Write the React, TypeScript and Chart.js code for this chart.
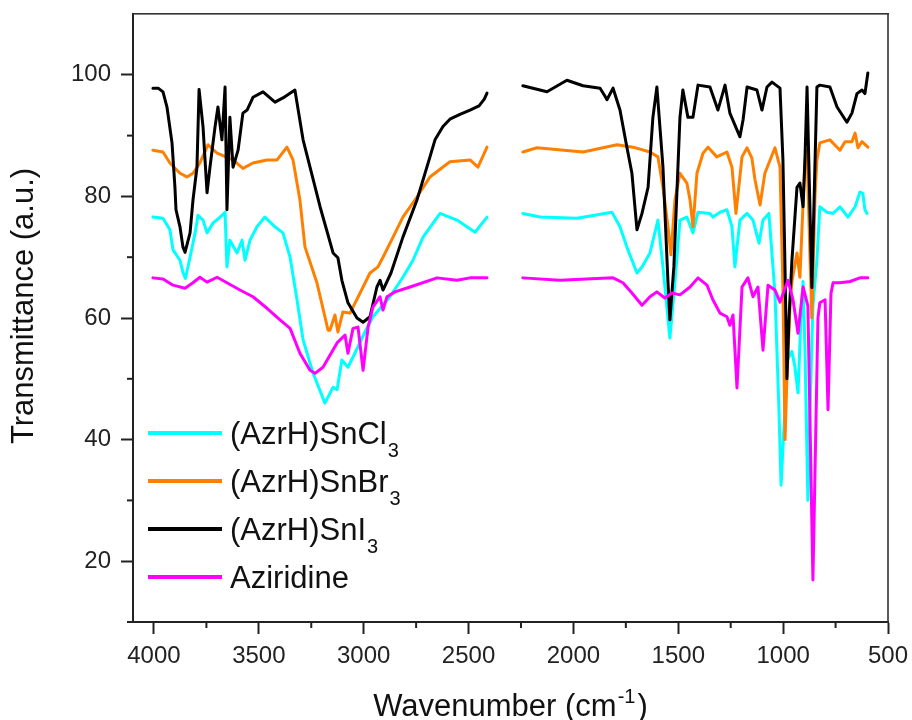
import React, { useEffect, useRef } from 'react';
import { Chart, registerables } from 'chart.js';
Chart.register(...registerables);

const FONT = '"Liberation Sans", Arial, sans-serif';

// Wavenumbers (cm-1) and transmittance (a.u.); null = axis break
const WN_CL = [4005,3957,3924,3909,3876,3862,3850,3828,3804,3790,3766,3747,3719,3685,3661,3652,3638,3604,3580,3566,3542,3509,3471,3423,3385,3351,3318,3289,3242,3185,3146,3127,3104,3075,3042,2994,2956,2875,2813,2765,2717,2636,2555,2469,2412,
  2330,
  2241,2159,1983,1816,1778,1740,1697,1673,1635,1597,1573,1540,1516,1492,1459,1430,1406,1349,1335,1301,1268,1244,1230,1206,1172,1144,1115,1096,1068,1039,1020,1010,996,982,958,944,929,915,905,896,882,872,858,839,825,791,762,729,691,657,634,620,610,600];
const T_CL = [76.6,76.4,74.5,71.2,69.5,67.5,66.5,70,74,76.9,76.1,74,75.6,76.6,77.4,68.4,72.8,70.7,72.8,69.5,72.8,75,76.6,75,74,70,63,56.4,51,46,48.6,48.2,53.1,51.9,54.2,57.7,60.2,63.5,66.7,69.5,73.3,77.2,76.1,74.1,76.6,
  null,
  77.2,76.6,76.4,77.4,75,71.2,67.4,68.4,70.7,76.1,68.4,56.7,65.8,76.1,76.6,74,77.4,77.2,76.6,77.4,77.8,75,68.4,76.1,77.2,76.1,72.3,76.1,77.2,64.1,45,32.5,42,53,54.5,52,47.7,60,66,55,30,45,62,69.5,78.3,77.4,77.2,78.3,76.6,78.3,80.7,80.5,77.8,77.2];

const WN_BR = [4005,3957,3924,3876,3843,3814,3781,3742,3699,3623,3576,3528,3461,3413,3366,3337,3304,3280,3223,3170,3161,3137,3123,3099,3065,3003,2970,2932,2908,2860,2813,2746,2684,2589,2493,2455,2412,
  2330,
  2241,2174,1954,1792,1716,1635,1597,1573,1549,1535,1516,1492,1459,1444,1430,1411,1382,1358,1316,1268,1244,1225,1196,1172,1149,1134,1110,1087,1039,1015,1001,991,982,967,958,934,920,896,886,872,863,848,839,825,777,729,705,672,657,643,624,596];
const T_BR = [87.6,87.3,85.5,83.8,83.2,83.8,85.5,88.5,87.1,86,84.6,85.5,86,86,88.1,86,79.4,71.7,65.8,58,58,60.5,57.7,61,60.8,65.1,67.4,68.4,70,73.3,76.6,79.9,83.2,85.7,86,84.8,88.1,
  null,
  87.3,88,87.3,88.5,88.1,87.3,86.5,81.5,75,70.4,79.4,83.8,82.2,79.4,75,83.8,87.1,88.1,86.5,87.3,84.8,77.2,86.5,88,86.3,82.7,78.6,83.8,88,84.8,65,40,50,62,66,70.7,66.7,86,87.6,70,60,80,86,88.8,89.3,87.6,89,89,90.4,88,89,88.1];

const WN_I = [4005,3980,3957,3938,3914,3900,3895,3876,3862,3852,3843,3828,3814,3795,3785,3766,3747,3733,3709,3695,3676,3661,3652,3638,3623,3599,3576,3556,3528,3480,3423,3385,3328,3289,3208,3146,3123,3104,3075,3032,3003,2970,2937,2922,2908,2870,2813,2746,2684,2660,2622,2589,2541,2493,2450,2425,2412,
  2330,
  2241,2126,2031,1954,1873,1850,1840,1811,1778,1745,1721,1697,1673,1644,1621,1602,1573,1549,1540,1521,1492,1478,1454,1430,1406,1349,1311,1277,1254,1206,1191,1172,1125,1101,1077,1053,1015,1001,991,982,972,958,934,920,905,896,886,875,863,852,839,825,777,743,696,672,648,624,610,596];
const T_I = [97.8,97.8,97.2,94.7,88.8,81.5,77.8,75,71.7,70.8,72,74,79.4,84.8,97.6,91.4,80.6,84.8,91.4,94.7,89.3,98,77.8,93,84.8,87.6,93.7,94.2,96.3,97.2,95.5,96.2,97.5,89.3,78.3,70.7,69.9,66.2,62.5,60,59.3,60.2,65.1,66.2,64.6,67.4,73.3,79.4,86.5,89.3,91.5,92.7,93.5,94.2,94.9,96,97,
  null,
  98.2,97.2,99.1,98.2,97.8,96.5,95.9,97.8,94.2,88.1,83.8,74.5,77.2,81.5,93,98,84.8,65.8,59.7,68.4,93,97.5,93,93,98.3,98,94.2,98.3,93.7,89.8,92.6,98,97.5,94.2,98,98.8,97.8,86,68,50,60,69.5,81.5,82.2,78.3,86,98,82,65,80,98,98.3,98,94.7,92.2,93.7,96.9,97.5,96.9,100.3];

const WN_AZ = [4005,3957,3909,3852,3814,3781,3747,3699,3652,3590,3528,3461,3399,3351,3304,3256,3232,3194,3127,3089,3075,3051,3027,3003,2979,2956,2922,2908,2889,2851,2779,2650,2555,2493,2412,
  2330,
  2241,2064,1811,1764,1721,1673,1635,1602,1564,1530,1492,1444,1406,1363,1335,1301,1268,1254,1239,1220,1196,1168,1144,1120,1096,1072,1039,1015,977,953,929,905,882,858,834,825,800,786,772,762,729,681,634,596];
const T_AZ = [66.6,66.4,65.4,64.9,65.8,66.7,65.9,66.7,65.8,64.6,63.5,61.6,59.7,58.3,54.2,51.4,50.9,51.9,55.9,57.2,54.2,58.3,58.5,51.4,58.5,61.8,63.5,61.3,63.5,64.3,65.1,66.6,66.2,66.6,66.6,
  null,
  66.6,66.2,66.6,65.8,64.1,62.1,63.5,64.3,63.3,64.1,63.8,65.1,66.6,65.4,63,60.8,60.2,58.8,60.5,48.5,65.1,66.6,63.5,65.1,54.7,65.4,64.6,62.6,66.2,63,57.5,65.1,62,16.9,60,62.5,63,44.9,64,65.8,65.8,66,66.6,66.6];

const X_MAJOR = [4000, 3500, 3000, 2500, 2000, 1500, 1000, 500];
const X_MINOR = [3750, 3250, 2750, 2250, 1750, 1250, 750];
const Y_MAJOR = [20, 40, 60, 80, 100];
const Y_MINOR = [10, 30, 50, 70, 90];

const SERIES = [
  { label: '(AzrH)SnCl', sub: '3', color: '#00FFFF', wn: WN_CL, t: T_CL },
  { label: '(AzrH)SnBr', sub: '3', color: '#FF8000', wn: WN_BR, t: T_BR },
  { label: '(AzrH)SnI', sub: '3', color: '#000000', wn: WN_I, t: T_I },
  { label: 'Aziridine', sub: '', color: '#FF00FF', wn: WN_AZ, t: T_AZ },
];

const decor = {
  id: 'decor',
  afterDraw(chart: any) {
    const ctx = chart.ctx;
    const xs = chart.scales.x;
    const ys = chart.scales.y;
    const L = xs.left;
    const R = xs.right;
    const T = ys.top;
    const B = ys.bottom;
    ctx.save();
    ctx.setLineDash([]);
    // top and right frame
    ctx.fillStyle = '#333';
    ctx.fillRect(L, T - 1, R - L + 1, 1.6);
    ctx.fillRect(R - 0.8, T - 1, 1.6, B - T + 1);
    // minor ticks
    ctx.fillStyle = '#222';
    X_MINOR.forEach((v) => {
      const x = xs.getPixelForValue(v);
      ctx.fillRect(x - 1, B, 2, 6);
    });
    Y_MINOR.forEach((v) => {
      const y = ys.getPixelForValue(v);
      ctx.fillRect(L - 6, y - 1, 6, 2);
    });

    // legend
    const lx0 = L + 15;
    const lx1 = L + 89;
    const tx = L + 97;
    SERIES.forEach((s, i) => {
      const ry = 433 + i * 48;
      ctx.fillStyle = s.color;
      ctx.fillRect(lx0, ry - 2, lx1 - lx0, 4);
      ctx.fillStyle = '#111';
      ctx.textAlign = 'left';
      ctx.textBaseline = 'alphabetic';
      ctx.font = `31px ${FONT}`;
      ctx.fillText(s.label, tx, ry + 11);
      const w = ctx.measureText(s.label).width;
      if (s.sub) {
        ctx.font = `20px ${FONT}`;
        ctx.fillText(s.sub, tx + w + 1, ry + 24);
      }
    });

    // y title
    ctx.fillStyle = '#111';
    ctx.save();
    ctx.translate(33, 306);
    ctx.rotate(-Math.PI / 2);
    ctx.font = `31px ${FONT}`;
    ctx.textAlign = 'center';
    ctx.textBaseline = 'alphabetic';
    ctx.fillText('Transmittance (a.u.)', 0, 0);
    ctx.restore();

    // x title with superscript
    const main = 'Wavenumber (cm';
    const sup = '-1';
    const close = ')';
    ctx.textAlign = 'left';
    ctx.textBaseline = 'alphabetic';
    ctx.font = `31px ${FONT}`;
    const w1 = ctx.measureText(main).width;
    const w3 = ctx.measureText(close).width;
    ctx.font = `20px ${FONT}`;
    const w2 = ctx.measureText(sup).width;
    const total = w1 + w2 + w3 + 3;
    const cx = (L + R) / 2;
    let x = cx - total / 2;
    const by = 716;
    ctx.font = `31px ${FONT}`;
    ctx.fillText(main, x, by);
    x += w1 + 1;
    ctx.font = `20px ${FONT}`;
    ctx.fillText(sup, x, by - 13);
    x += w2 + 2;
    ctx.font = `31px ${FONT}`;
    ctx.fillText(close, x, by);
    ctx.restore();
  },
};

export default function App() {
  const ref = useRef<HTMLCanvasElement | null>(null);
  useEffect(() => {
    if (!ref.current) return;
    const datasets = SERIES.map((s, i) => ({
      label: s.label + s.sub,
      data: s.wn.map((w, k) => ({ x: w, y: s.t[k] })),
      borderColor: s.color,
      backgroundColor: s.color,
      borderWidth: 3,
      pointRadius: 0,
      tension: 0,
      spanGaps: false,
      borderJoinStyle: 'round' as const,
      borderCapStyle: 'round' as const,
      order: SERIES.length - i,
    }));
    const chart = new Chart(ref.current, {
      type: 'line',
      data: { datasets },
      options: {
        animation: false,
        responsive: false,
        maintainAspectRatio: false,
        parsing: false as any,
        layout: { padding: { top: 14, right: 24, left: 0, bottom: 0 } },
        plugins: { legend: { display: false }, tooltip: { enabled: false }, title: { display: false } },
        scales: {
          x: {
            type: 'linear',
            min: 500,
            max: 4100,
            reverse: true,
            afterBuildTicks: (scale: any) => {
              scale.ticks = X_MAJOR.map((v) => ({ value: v }));
            },
            afterFit: (scale: any) => {
              scale.height = 98;
              scale.paddingLeft = 0;
              scale.paddingRight = 0;
            },
            ticks: {
              color: '#222',
              font: { family: FONT, size: 24 },
              padding: 8,
              maxRotation: 0,
              autoSkip: false,
              callback: (v: any) => String(v),
            },
            grid: { display: true, drawOnChartArea: false, drawTicks: true, tickLength: 12, tickWidth: 2, tickColor: '#222' },
            border: { display: true, color: '#222', width: 2 },
          },
          y: {
            type: 'linear',
            min: 10,
            max: 110,
            afterBuildTicks: (scale: any) => {
              scale.ticks = Y_MAJOR.map((v) => ({ value: v }));
            },
            afterFit: (scale: any) => {
              scale.width = 133;
              scale.paddingTop = 0;
              scale.paddingBottom = 0;
            },
            ticks: {
              color: '#222',
              font: { family: FONT, size: 24 },
              padding: 10,
              autoSkip: false,
              callback: (v: any) => String(v),
            },
            grid: { display: true, drawOnChartArea: false, drawTicks: true, tickLength: 12, tickWidth: 2, tickColor: '#222' },
            border: { display: true, color: '#222', width: 2 },
          },
        },
      },
      plugins: [decor],
    });
    return () => chart.destroy();
  }, []);
  return (
    <div style={{ position: 'fixed', left: 0, top: 0, width: 912, height: 720, background: '#fff' }}>
      <canvas ref={ref} width={912} height={720} style={{ width: 912, height: 720, display: 'block' }} />
    </div>
  );
}
